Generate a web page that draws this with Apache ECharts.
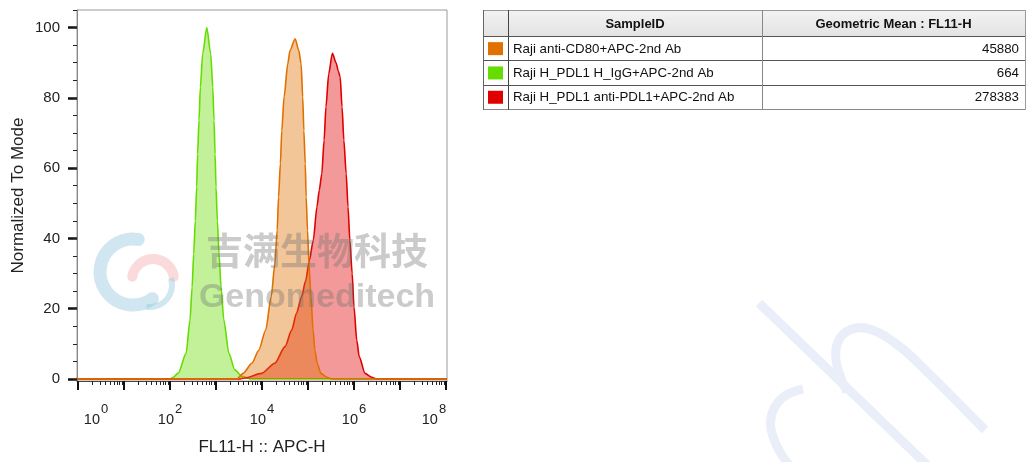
<!DOCTYPE html>
<html>
<head>
<meta charset="utf-8">
<script src="https://cdn.jsdelivr.net/npm/echarts@6/dist/echarts.min.js"></script>
<style>
  html, body { margin: 0; padding: 0; background: #fff; }
  #chart { width: 1027px; height: 462px; }
</style>
</head>
<body>
<div id="chart"></div>
<script>
// x values are log10 of FL11-H (APC-H), y is % of mode
const greenLog = [-0.02, 2.0, 2.07, 2.18, 2.35, 2.435, 2.48, 2.515, 2.55, 2.58, 2.60, 2.63, 2.66, 2.71, 2.80, 2.885, 2.93, 2.957, 2.98, 3.0, 3.03, 3.065, 3.11, 3.17, 3.28, 3.41, 3.56, 3.74, 8.02];
const greenPct = [0, 0, 0.5, 1.7, 7.3, 16.8, 26, 35.6, 45, 54.6, 64, 73.6, 83, 92.5, 100, 92.5, 83, 73.6, 64, 54.6, 45, 35.6, 26, 16.8, 7.3, 2.6, 0.8, 0, 0];

const orangeLog = [-0.02, 3.45, 3.59, 3.78, 3.93, 4.08, 4.20, 4.28, 4.33, 4.36, 4.40, 4.43, 4.48, 4.56, 4.61, 4.72, 4.80, 4.85, 4.885, 4.91, 4.94, 4.96, 4.99, 5.02, 5.065, 5.11, 5.15, 5.20, 5.28, 5.41, 5.52, 8.02];
const orangePct = [0, 0, 1.6, 4.5, 8.2, 13.9, 23.4, 32.8, 42.3, 51.8, 61.3, 70.7, 80.2, 89.7, 93.5, 96.8, 93.5, 89.7, 80.2, 70.7, 61.3, 51.8, 42.3, 32.8, 23.4, 13.9, 8.2, 4.5, 1.6, 0.5, 0, 0];

const redLog = [-0.02, 3.5, 3.63, 3.99, 4.28, 4.50, 4.645, 4.75, 4.86, 4.95, 5.03, 5.115, 5.195, 5.245, 5.30, 5.35, 5.39, 5.45, 5.53, 5.61, 5.66, 5.70, 5.74, 5.78, 5.83, 5.87, 5.91, 5.96, 6.0, 6.06, 6.115, 6.24, 6.385, 6.49, 8.02];
const redPct = [0, 0, 0.3, 1.6, 4.5, 9.2, 13.9, 18.7, 23.4, 28, 33.8, 39.5, 49, 53.7, 58.4, 67.9, 77.4, 86.8, 92.7, 90, 87.6, 85.9, 77.4, 67.9, 58.4, 49, 39.5, 30, 20.5, 11, 6.3, 1.6, 0.5, 0, 0];

// table
const sampleIds = ['Raji anti-CD80+APC-2nd Ab', 'Raji H_PDL1 H_IgG+APC-2nd Ab', 'Raji H_PDL1 anti-PDL1+APC-2nd Ab'];
const geoMeans = ['45880', '664', '278383'];
const sampleColors = ['#e07000', '#66dd00', '#e00000'];
const tableHeaders = ['SampleID', 'Geometric Mean : FL11-H'];

// axes
const xDecades = [0, 1, 2, 3, 4, 5, 6, 7, 8];
const xLabelDecades = [0, 2, 4, 6, 8];
const minorMult = [2, 3, 4, 5, 6, 7, 8, 9];
const yLabels = [0, 20, 40, 60, 80, 100];
const yMinor = [0, 5, 10, 15, 20, 25, 30, 35, 40, 45, 50, 55, 60, 65, 70, 75, 80, 85, 90, 95, 100, 105];

const FONT = 'Arial, "Liberation Sans", Helvetica, sans-serif';

const xMinor = [];
xDecades.slice(0, -1).forEach(d => minorMult.forEach(m => xMinor.push(d + Math.log10(m))));

const pairs = (xs, ys) => xs.map((x, i) => [x, ys[i]]);

const chart = echarts.init(document.getElementById('chart'), null, { renderer: 'canvas' });

const X_MIN = -0.022, X_MAX = 8.022, Y_MIN = -0.57, Y_MAX = 105;

function histSeries(name, xs, ys, color, z) {
  return {
    name, type: 'line', data: pairs(xs, ys),
    xAxisIndex: 0, yAxisIndex: 0,
    showSymbol: false, smooth: 0.25, smoothMonotone: 'x', z,
    lineStyle: { color, width: 1.6 },
    itemStyle: { color },
    areaStyle: { color, opacity: 0.4 },
    silent: true
  };
}

// table graphics
const T = { left: 483, right: 1025, c1: 508, c2: 762, top: 10, headH: 26, rowH: 24.3 };
const tableEls = [];
const tBottom = T.top + T.headH + T.rowH * sampleIds.length;
tableEls.push({
  type: 'rect', shape: { x: T.left, y: T.top, width: T.right - T.left, height: T.headH },
  style: { fill: new echarts.graphic.LinearGradient(0, 0, 0, 1, [{ offset: 0, color: '#f3f3f3' }, { offset: 1, color: '#e3e3e3' }]) }
});
const hl = (x1, y1, x2, y2, c) => tableEls.push({ type: 'line', shape: { x1, y1, x2, y2 }, style: { stroke: c || '#555', lineWidth: 1 } });
hl(T.left, T.top + 0.5, T.right, T.top + 0.5, '#999');
hl(T.left, Math.round(T.top + T.headH) + 0.5, T.right, Math.round(T.top + T.headH) + 0.5);
sampleIds.forEach((s, i) => {
  const y = Math.round(T.top + T.headH + T.rowH * (i + 1)) + 0.5;
  hl(T.left, y, T.right, y, i === sampleIds.length - 1 ? '#888' : '#555');
});
hl(T.left + 0.5, T.top, T.left + 0.5, tBottom + 1, '#666');
hl(T.c1 + 0.5, T.top, T.c1 + 0.5, tBottom + 1, '#444');
hl(T.c2 + 0.5, T.top, T.c2 + 0.5, tBottom + 1, '#888');
hl(T.right + 0.5, T.top, T.right + 0.5, tBottom + 1, '#999');
const txt = (text, x, y, align, font) => tableEls.push({
  type: 'text', z: 5,
  style: { text, x, y, font, fill: '#111', textAlign: align, textVerticalAlign: 'middle', align, verticalAlign: 'middle' }
});
txt(tableHeaders[0], (T.c1 + T.c2) / 2, T.top + T.headH / 2 + 1, 'center', 'bold 13px ' + FONT);
txt(tableHeaders[1], (T.c2 + T.right) / 2, T.top + T.headH / 2 + 1, 'center', 'bold 13px ' + FONT);
sampleIds.forEach((s, i) => {
  const cy = T.top + T.headH + T.rowH * i + T.rowH / 2 + 1;
  tableEls.push({ type: 'rect', shape: { x: 488, y: cy - 7, width: 15, height: 13 }, style: { fill: sampleColors[i] } });
  txt(s, T.c1 + 5, cy, 'left', '13.3px ' + FONT);
  txt(geoMeans[i], T.right - 6, cy, 'right', '13.3px ' + FONT);
});

// watermark
const wm = [
  { type: 'arc', shape: { cx: 133, cy: 272, r: 33, startAngle: -Math.PI * 0.45, endAngle: Math.PI * 0.3, clockwise: false },
    style: { stroke: 'rgba(150,200,225,0.45)', lineWidth: 13, fill: null, lineCap: 'round' }, z: 50 },
  { type: 'arc', shape: { cx: 153, cy: 280, r: 21, startAngle: -Math.PI * 0.95, endAngle: -Math.PI * 0.05, clockwise: true },
    style: { stroke: 'rgba(240,150,150,0.35)', lineWidth: 10, fill: null, lineCap: 'round' }, z: 50 },
  { type: 'arc', shape: { cx: 150, cy: 285, r: 22, startAngle: -Math.PI * 0.1, endAngle: Math.PI * 0.55, clockwise: true },
    style: { stroke: 'rgba(150,200,225,0.45)', lineWidth: 6, fill: null }, z: 50 },
  { type: 'text', z: 60, style: { text: '吉满生物科技', x: 317, y: 251, font: 'bold 37px "Noto Sans CJK SC", sans-serif',
    fill: 'rgba(110,110,110,0.36)', textAlign: 'center', textVerticalAlign: 'middle', align: 'center', verticalAlign: 'middle' } },
  { type: 'text', z: 60, style: { text: 'Genomeditech', x: 317, y: 298, font: 'bold 34px ' + FONT,
    fill: 'rgba(110,110,110,0.36)', textAlign: 'center', textVerticalAlign: 'middle', align: 'center', verticalAlign: 'middle' } },
  // faint strokes bottom right
  { type: 'line', shape: { x1: 759, y1: 303, x2: 927, y2: 465 }, style: { stroke: '#e9eef8', lineWidth: 9 }, z: 0 },
  { type: 'polyline', shape: { points: [[847, 392], [836, 360], [840, 338], [856, 328], [875, 331], [895, 343], [913, 358], [985, 430]], smooth: 0.4 },
    style: { stroke: '#e9eef8', lineWidth: 9, fill: null }, z: 0 },
  { type: 'polyline', shape: { points: [[803, 389], [782, 398], [771, 418], [775, 442], [789, 465]], smooth: 0.4 },
    style: { stroke: '#e9eef8', lineWidth: 9, fill: null }, z: 0 }
];

chart.setOption({
  backgroundColor: '#fff',
  animation: false,
  grid: { left: 77, top: 10, width: 370, height: 371, show: true, borderColor: '#9a9a9a', borderWidth: 1, backgroundColor: 'transparent' },
  xAxis: [
    {
      type: 'value', min: X_MIN, max: X_MAX, position: 'bottom',
      name: 'FL11-H :: APC-H', nameLocation: 'middle', nameGap: 58,
      nameTextStyle: { fontFamily: FONT, fontSize: 17, color: '#222' },
      axisLine: { show: true, onZero: false, lineStyle: { color: '#444', width: 1 } },
      axisTick: { show: true, customValues: xDecades, length: 9, lineStyle: { color: '#111', width: 2 } },
      axisLabel: {
        show: true, customValues: xLabelDecades, margin: 22,
        formatter: v => {
          const e = Math.round(v);
          let s = '{b|10}{s|' + e + '}';
          if (e === 0) s = '{gl| }' + s;
          if (e === 8) s = s + '{gr| }';
          return s;
        },
        rich: {
          b: { fontFamily: FONT, fontSize: 14.5, color: '#222', verticalAlign: 'bottom' },
          s: { fontFamily: FONT, fontSize: 13, color: '#222', verticalAlign: 'bottom', padding: [0, 0, 11, 1] },
          gl: { width: 36 },
          gr: { width: 24 }
        }
      },
      splitLine: { show: false }
    },
    {
      type: 'value', min: X_MIN, max: X_MAX, position: 'bottom',
      axisLine: { show: false, onZero: false },
      axisTick: { show: true, customValues: xMinor, length: 4, lineStyle: { color: '#222', width: 1 } },
      axisLabel: { show: false },
      splitLine: { show: false }
    }
  ],
  yAxis: [
    {
      type: 'value', min: Y_MIN, max: Y_MAX, position: 'left',
      name: 'Normalized To Mode', nameLocation: 'middle', nameGap: 50,
      nameTextStyle: { fontFamily: FONT, fontSize: 17, color: '#222' },
      axisLine: { show: true, onZero: false, lineStyle: { color: '#888', width: 1 } },
      axisTick: { show: true, customValues: yLabels, length: 9, lineStyle: { color: '#111', width: 2.5 } },
      axisLabel: { show: true, customValues: yLabels, margin: 17, fontFamily: FONT, fontSize: 15, color: '#222' },
      splitLine: { show: false }
    },
    {
      type: 'value', min: Y_MIN, max: Y_MAX, position: 'left',
      axisLine: { show: false, onZero: false },
      axisTick: { show: true, customValues: yMinor, length: 4, lineStyle: { color: '#222', width: 1 } },
      axisLabel: { show: false },
      splitLine: { show: false }
    }
  ],
  series: [
    histSeries('Raji H_PDL1 H_IgG+APC-2nd Ab', greenLog, greenPct, sampleColors[1], 2),
    histSeries('Raji H_PDL1 anti-PDL1+APC-2nd Ab', redLog, redPct, sampleColors[2], 3),
    histSeries('Raji anti-CD80+APC-2nd Ab', orangeLog, orangePct, sampleColors[0], 4)
  ],
  graphic: { elements: tableEls.concat(wm) }
});
</script>
</body>
</html>
